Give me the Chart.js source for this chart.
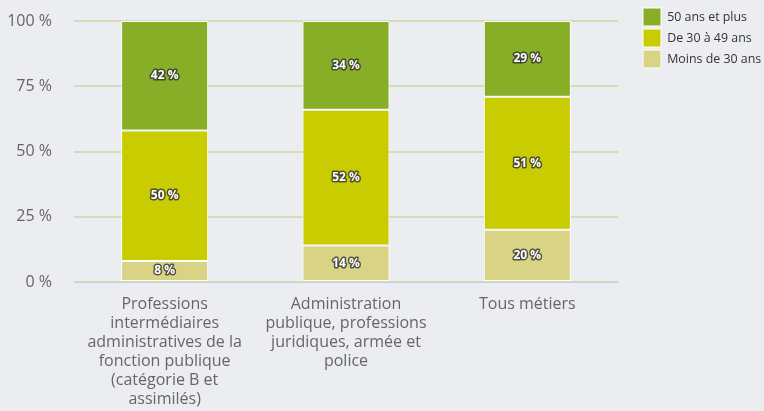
<!DOCTYPE html>
<html>
<head>
<meta charset="utf-8">
<script src="https://cdn.jsdelivr.net/npm/chart.js@4"></script>
<style>
  html, body { margin: 0; padding: 0; background: #ebedf0; }
  #wrap { width: 764px; height: 411px; }
</style>
</head>
<body>
<div id="wrap"><canvas id="ageChart" width="764" height="411"></canvas></div>
<script>
// categories and values (shares in %)
const categories = [
    ["Professions", "intermédiaires", "administratives de la", "fonction publique", "(catégorie B et", "assimilés)"],
    ["Administration", "publique, professions", "juridiques, armée et", "police"],
    ["Tous métiers"]
];
const moins30 = [8, 14, 20];
const de30a49 = [50, 52, 51];
const plus50 = [42, 34, 29];
const yTicks = [0, 25, 50, 75, 100];

// white labels with dark outline in the middle of each segment
const segmentLabels = {
    id: "segmentLabels",
    afterDatasetsDraw(chart) {
        const c = chart.ctx;
        c.save();
        c.font = "bold 12px 'Open Sans'";
        c.textAlign = "center";
        c.textBaseline = "middle";
        c.lineJoin = "round";
        chart.data.datasets.forEach((ds, i) => {
            chart.getDatasetMeta(i).data.forEach((bar, j) => {
                const txt = ds.data[j] + " %";
                const y = (bar.y + bar.base) / 2;
                c.lineWidth = 3;
                c.strokeStyle = "rgba(50,50,50,0.8)";
                c.strokeText(txt, bar.x, y);
                c.fillStyle = "#fff";
                c.fillText(txt, bar.x, y);
            });
        });
        c.restore();
    }
};

const ctx = document.getElementById("ageChart").getContext("2d");
new Chart(ctx, {
    type: "bar",
    data: {
        labels: categories,
        datasets: [
            { label: "Moins de 30 ans", data: moins30, backgroundColor: "#d9d485" },
            { label: "De 30 à 49 ans", data: de30a49, backgroundColor: "#c8cc00" },
            { label: "50 ans et plus", data: plus50, backgroundColor: "#87ae26" }
        ].map(d => Object.assign(d, {
            borderColor: "#ffffff",
            borderWidth: 1,
            borderSkipped: false,
            barPercentage: 0.96,
            categoryPercentage: 0.5
        }))
    },
    options: {
        responsive: false,
        animation: false,
        devicePixelRatio: 1,
        layout: { padding: { top: 5, left: 0, right: -4, bottom: 0 } },
        plugins: {
            legend: {
                position: "right",
                align: "start",
                reverse: true,
                labels: {
                    boxWidth: 18,
                    boxHeight: 18,
                    padding: 3,
                    color: "#333",
                    font: { family: "'Open Sans'", size: 12.4 }
                }
            },
            tooltip: { enabled: false }
        },
        scales: {
            x: {
                stacked: true,
                grid: { display: false },
                border: { color: "#c5cedb" },
                afterFit: axis => {
                    axis.height = 129;
                    axis.paddingLeft = 0;
                    axis.paddingRight = 0;
                },
                ticks: {
                    color: "#666",
                    font: { family: "'Open Sans'", size: 16, lineHeight: "19px" },
                    maxRotation: 0,
                    padding: 5
                }
            },
            y: {
                stacked: true,
                min: 0,
                max: 100,
                afterBuildTicks: axis => { axis.ticks = yTicks.map(v => ({ value: v })); },
                afterFit: axis => {
                    axis.width = 74;
                    axis.paddingTop = 21;
                    axis.paddingBottom = 0;
                },
                grid: { color: "#d3dcb4", lineWidth: 2, drawTicks: false },
                border: { display: false },
                ticks: {
                    color: "#666",
                    padding: 22,
                    font: { family: "'Open Sans'", size: 16 },
                    callback: v => v + " %"
                }
            },
            // empty axis, only keeps a gap between the plot and the legend
            gap: {
                position: "right",
                display: true,
                grid: { display: false },
                border: { display: false },
                ticks: { display: false },
                afterFit: axis => {
                    axis.width = 22;
                    axis.paddingTop = 21;
                    axis.paddingBottom = 0;
                }
            }
        }
    },
    plugins: [segmentLabels]
});
</script>
</body>
</html>
